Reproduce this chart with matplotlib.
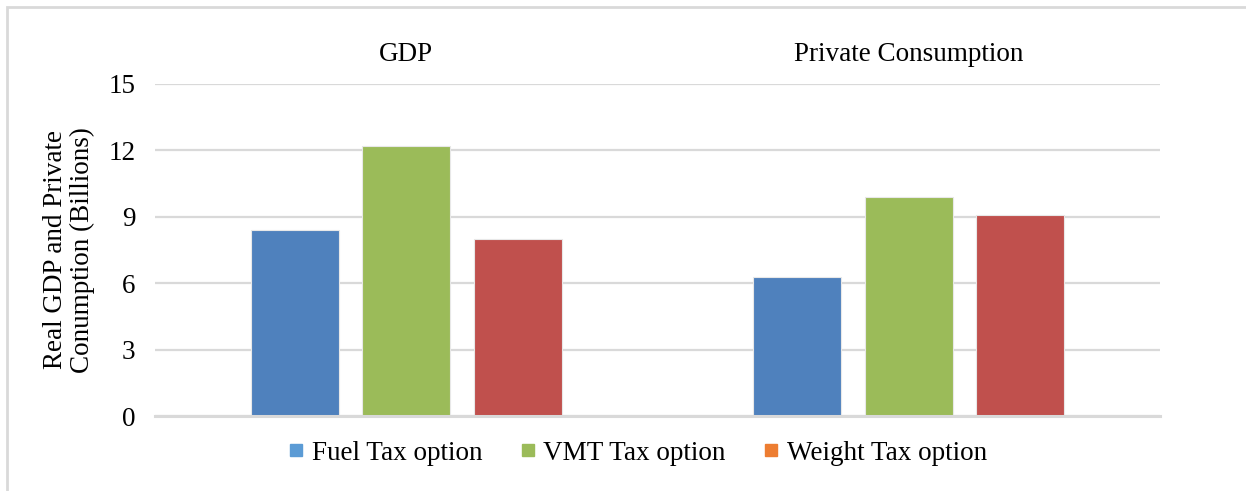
import matplotlib.pyplot as plt
import matplotlib.patches as mpatches
import numpy as np

categories = ['GDP', 'Private Consumption']
series = ['Fuel Tax option', 'VMT Tax option', 'Weight Tax option']
fuel = [8.4, 6.3]
vmt = [12.2, 9.9]
weight = [8.0, 9.1]
yticks = [0, 3, 6, 9, 12, 15]

bar_colors = ['#4F81BD', '#9BBB59', '#C0504D']
legend_colors = ['#5B9BD5', '#9BBB59', '#ED7D31']

plt.rcParams['font.family'] = ['Liberation Serif', 'DejaVu Serif']
fs = 19.5

fig = plt.figure(figsize=(12.46, 4.91), dpi=100)
ax = fig.add_axes([0.1244, 0.1527, 0.8066, 0.6763])

x = np.arange(len(categories))
width = 0.175
step = 0.2215
for i, vals in enumerate([fuel, vmt, weight]):
    ax.bar(x + (i - 1) * step, vals, width, color=bar_colors[i],
           edgecolor='#E8E8E8', linewidth=0.8, zorder=3)

ax.set_xlim(-0.5, 1.5)
ax.set_ylim(0, 15)
ax.set_yticks(yticks)
ax.set_yticklabels([str(t) for t in yticks], fontsize=fs)
ax.tick_params(axis='y', length=0, pad=14)
ax.grid(axis='y', color='#D9D9D9', linewidth=1.6, zorder=0)

ax.xaxis.tick_top()
ax.set_xticks(x)
ax.set_xticklabels(categories, fontsize=fs)
ax.tick_params(axis='x', length=0, pad=12)

for s in ['left', 'right', 'top']:
    ax.spines[s].set_visible(False)
ax.spines['bottom'].set_color('#D9D9D9')
ax.spines['bottom'].set_linewidth(2.2)
ax.spines['bottom'].set_zorder(4)

ax.set_ylabel('Real GDP and Private\nConumption (Billions)', fontsize=fs,
              labelpad=10, linespacing=1.05)

handles = [mpatches.Patch(color=c, label=l) for c, l in zip(legend_colors, series)]
fig.legend(handles=handles, loc='center', bbox_to_anchor=(0.5124, 0.077), ncol=3,
           frameon=False, fontsize=fs, handlelength=0.45, handleheight=0.35,
           handletextpad=0.35, columnspacing=1.45)

# chart border, only left and top edges fall inside the picture
fig.patches.append(mpatches.Rectangle((7 / 1246, -0.05), 1.2, 1 - 7 / 491 + 0.05,
                                      transform=fig.transFigure, fill=False,
                                      edgecolor='#D9D9D9', linewidth=2))

fig.savefig('out.png', dpi=100)
